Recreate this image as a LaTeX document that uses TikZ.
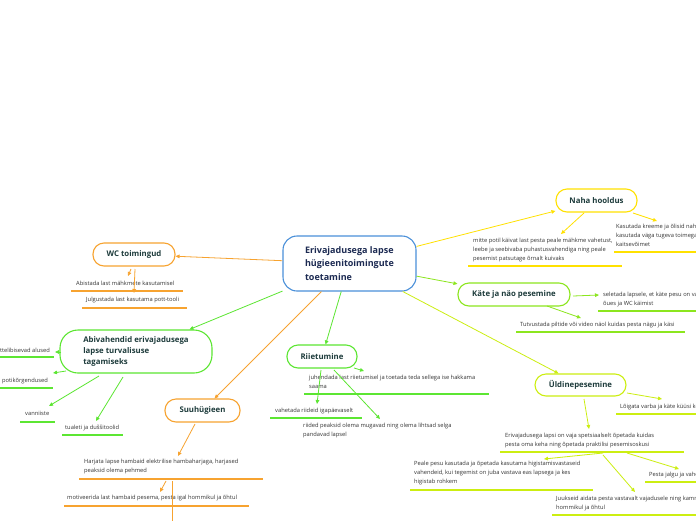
\documentclass[tikz,border=0pt]{standalone}
\usepackage{fontspec}
\setmainfont{Open Sans}
\usetikzlibrary{arrows.meta}
\definecolor{cblue}{HTML}{4A90D9}
\definecolor{corange}{HTML}{F7A330}
\definecolor{cyellow}{HTML}{FFE100}
\definecolor{cgreen}{HTML}{5CE632}
\definecolor{clime}{HTML}{8CE61E}
\definecolor{cygreen}{HTML}{CCEE11}
\definecolor{headtxt}{HTML}{1E3C3C}
\definecolor{maintxt}{HTML}{1C2A52}
\definecolor{smalltxt}{HTML}{333333}
\begin{document}
\begin{tikzpicture}[x=1pt,y=-1pt,
 topic/.style={draw, rounded corners=11pt, line width=1.1pt, fill=white, text=headtxt,
   font=\fontsize{7.8}{10.7}\selectfont\bfseries, inner sep=0pt, align=left},
 leaf/.style={anchor=north west, inner sep=0pt, align=left, text=smalltxt,
   font=\fontsize{5.75}{8.8}\selectfont},
 conn/.style={line width=0.8pt, -{Triangle[length=4pt,width=3.6pt]}},
 ul/.style={line width=1.8pt},
]
\fill[white] (0,0) rectangle (696,520);
\useasboundingbox (0,0) rectangle (696,520);

% main topics
\node[topic, draw=cblue, text=maintxt, rounded corners=14pt, minimum width=133pt, minimum height=55pt,
  font=\fontsize{9}{13.5}\selectfont\bfseries] (center) at (349.5,263.5)
  {Erivajadusega lapse\\hügieenitoimingute\\toetamine};
\node[topic, draw=cyellow, minimum width=81pt, minimum height=23pt] (naha) at (596.5,200.5) {Naha hooldus};
\node[topic, draw=corange, minimum width=82pt, minimum height=23pt] (wc) at (134,254.5) {WC toimingud};
\node[topic, draw=cgreen, rounded corners=18pt, minimum width=152pt, minimum height=43pt] (abi) at (136,351.5)
  {Abivahendid erivajadusega\\lapse turvalisuse\\tagamiseks};
\node[topic, draw=corange, minimum width=75pt, minimum height=23pt] (suu) at (202.5,410.5) {Suuhügieen};
\node[topic, draw=cgreen, minimum width=70pt, minimum height=23pt] (rii) at (322,356.5) {Riietumine};
\node[topic, draw=clime, minimum width=112pt, minimum height=23pt] (kate) at (514,294.5) {Käte ja näo pesemine};
\node[topic, draw=cygreen, minimum width=91pt, minimum height=22pt] (uld) at (580.5,385) {Üldinepesemine};

% main connectors
\draw[conn, cyellow] (center) -- (naha);
\draw[conn, corange] (center) -- (wc);
\draw[conn, cgreen] (center) -- (abi);
\draw[conn, corange] (center) -- (suu);
\draw[conn, cgreen] (center) -- (rii);
\draw[conn, clime] (center) -- (kate);
\draw[conn, cygreen] (center) -- (uld);

% Naha hooldus
\node[leaf] (n1) at (473,238) {mitte potil käivat last pesta peale mähkme vahetust,\\leebe ja seebivaba puhastusvahendiga ning peale\\pesemist patsutage õrnalt kuivaks};
\draw[ul, cyellow] ([shift={(-5,28)}]n1.north west) -- ([shift={(149,28)}]n1.north west);
\draw[conn, cyellow] ([shift={(-12.5,12.5)}]naha.center) -- ([shift={(88,-4)}]n1.north west);
\node[leaf] (n2) at (616,224) {Kasutada kreeme ja õlisid naha\\kasutada väga tugeva toimega\\kaitsevõimet};
\draw[ul, cyellow] ([shift={(-2,28)}]n2.north west) -- ([shift={(84,28)}]n2.north west);
\draw[conn, cyellow] ([shift={(36.5,12.5)}]naha.center) -- ([shift={(41,-3)}]n2.north west);

% WC toimingud
\node[leaf] (w1) at (76,281) {Abistada last mähkmete kasutamisel};
\draw[ul, corange] ([shift={(-5,10)}]w1.north west) -- ([shift={(107,10)}]w1.north west);
\draw[conn, corange] ([shift={(-3,14.5)}]wc.center) -- ([shift={(52,-5)}]w1.north west);
\node[leaf] (w2) at (86,297) {Julgustada last kasutama pott-tooli};
\draw[ul, corange] ([shift={(-4,11)}]w2.north west) -- ([shift={(101,11)}]w2.north west);
\draw[conn, corange] ([shift={(1,14.5)}]wc.center) -- ([shift={(48,-4)}]w2.north west);

% Abivahendid
\node[leaf, anchor=north east] (a1) at (50,348) {Mittelibisevad alused};
\draw[ul, cgreen] ([shift={(-55,9)}]a1.north east) -- ([shift={(4,9)}]a1.north east);
\draw[conn, cgreen] ([shift={(-75,0.5)}]abi.center) -- ([shift={(5,4)}]a1.north east);
\node[leaf] (a2) at (2,378) {potikõrgendused};
\draw[ul, cgreen] ([shift={(-4,10)}]a2.north west) -- ([shift={(51,10)}]a2.north west);
\draw[conn, cgreen] ([shift={(-70,19.5)}]abi.center) -- ([shift={(51,-5)}]a2.north west);
\node[leaf] (a3) at (25,411) {vanniiste};
\draw[ul, cgreen] ([shift={(-5,11)}]a3.north west) -- ([shift={(30,11)}]a3.north west);
\draw[conn, cgreen] ([shift={(-37,24.5)}]abi.center) -- ([shift={(24,-5)}]a3.north west);
\node[leaf] (a4) at (65,425) {tualeti ja duššitoolid};
\draw[ul, cgreen] ([shift={(-3,10)}]a4.north west) -- ([shift={(58,10)}]a4.north west);
\draw[conn, cgreen] ([shift={(-13,25.5)}]abi.center) -- ([shift={(31,-4)}]a4.north west);

% Suuhügieen
\node[leaf] (s1) at (84,459) {Harjata lapse hambaid elektrilise hambaharjaga, harjased\\peaksid olema pehmed};
\draw[ul, corange] ([shift={(-5,20)}]s1.north west) -- ([shift={(179,20)}]s1.north west);
\draw[conn, corange] ([shift={(-7.5,13.5)}]suu.center) -- ([shift={(94,-3)}]s1.north west);
\node[leaf] (s2) at (67,495) {motiveerida last hambaid pesema, pesta igal hommikul ja õhtul};
\draw[ul, corange] ([shift={(-3,11)}]s2.north west) -- ([shift={(182,11)}]s2.north west);
\draw[conn, corange] ([shift={(82,22)}]s1.north west) -- ([shift={(93,-3)}]s2.north west);
\coordinate (sout) at (172,530);
\draw[line width=0.8pt, corange] ([shift={(88,22)}]s1.north west) -- (sout);

% Riietumine
\node[leaf] (r1) at (309,375) {juhendada last riietumisel ja toetada teda sellega ise hakkama\\saama};
\draw[ul, cgreen] ([shift={(-5,19)}]r1.north west) -- ([shift={(180,19)}]r1.north west);
\draw[conn, cgreen] ([shift={(32,11.5)}]rii.center) -- ([shift={(55,-4)}]r1.north west);
\node[leaf] (r2) at (275,408) {vahetada riideid igapäevaselt};
\draw[ul, cgreen] ([shift={(-5,10)}]r2.north west) -- ([shift={(87,10)}]r2.north west);
\draw[conn, cgreen] ([shift={(-1,13.5)}]rii.center) -- ([shift={(42,-4)}]r2.north west);
\node[leaf] (r3) at (303,423) {riided peaksid olema mugavad ning olema lihtsad selga\\pandavad lapsel};
\draw[conn, cgreen] ([shift={(12,13.5)}]rii.center) -- ([shift={(77,-4)}]r3.north west);

% Käte ja näo pesemine
\node[leaf] (k1) at (603,292) {seletada lapsele, et käte pesu on vajalik\\õues ja WC käimist};
\draw[ul, clime] ([shift={(-5,19)}]k1.north west) -- ([shift={(97,19)}]k1.north west);
\draw[conn, clime] ([shift={(59,1.5)}]kate.center) -- ([shift={(-4,3)}]k1.north west);
\node[leaf] (k2) at (520,322) {Tutvustada piltide või video näol kuidas pesta nägu ja käsi};
\draw[ul, clime] ([shift={(-4,10)}]k2.north west) -- ([shift={(165,10)}]k2.north west);
\draw[conn, clime] ([shift={(33,11.5)}]kate.center) -- ([shift={(61,-4)}]k2.north west);

% Üldinepesemine
\node[leaf] (u1) at (620,404) {Lõigata varba ja käte küüsi korrapäraselt};
\draw[ul, cygreen] ([shift={(-4,10)}]u1.north west) -- ([shift={(80,10)}]u1.north west);
\draw[conn, cygreen] ([shift={(46.5,8)}]uld.center) -- ([shift={(42,-5)}]u1.north west);
\node[leaf] (u2) at (505,433) {Erivajadusega lapsi on vaja spetsiaalselt õpetada kuidas\\pesta oma keha ning õpetada praktilisi pesemisoskusi};
\draw[ul, cygreen] ([shift={(-5,19)}]u2.north west) -- ([shift={(179,19)}]u2.north west);
\draw[conn, cygreen] ([shift={(3.5,14)}]uld.center) -- ([shift={(84,-4)}]u2.north west);
\node[leaf] (u3) at (414,461) {Peale pesu kasutada ja õpetada kasutama higistamisvastaseid\\vahendeid, kui tegemist on juba vastava eas lapsega ja kes\\higistab rohkem};
\draw[ul, cygreen] ([shift={(-4,29)}]u3.north west) -- ([shift={(179,29)}]u3.north west);
\draw[conn, cygreen] ([shift={(98,20)}]u2.north west) -- ([shift={(130,-2)}]u3.north west);
\node[leaf] (u4) at (649,472) {Pesta jalgu ja vahesid};
\draw[ul, cygreen] ([shift={(-4,10)}]u4.north west) -- ([shift={(51,10)}]u4.north west);
\draw[conn, cygreen] ([shift={(122,20)}]u2.north west) -- ([shift={(30,-3)}]u4.north west);
\node[leaf] (u5) at (556,496) {Juukseid aidata pesta vastavalt vajadusele ning kammida\\hommikul ja õhtul};
\draw[ul, cygreen] ([shift={(-4,19)}]u5.north west) -- ([shift={(144,19)}]u5.north west);
\draw[conn, cygreen] ([shift={(98,22)}]u2.north west) -- ([shift={(79,-4)}]u5.north west);
\end{tikzpicture}
\end{document}
